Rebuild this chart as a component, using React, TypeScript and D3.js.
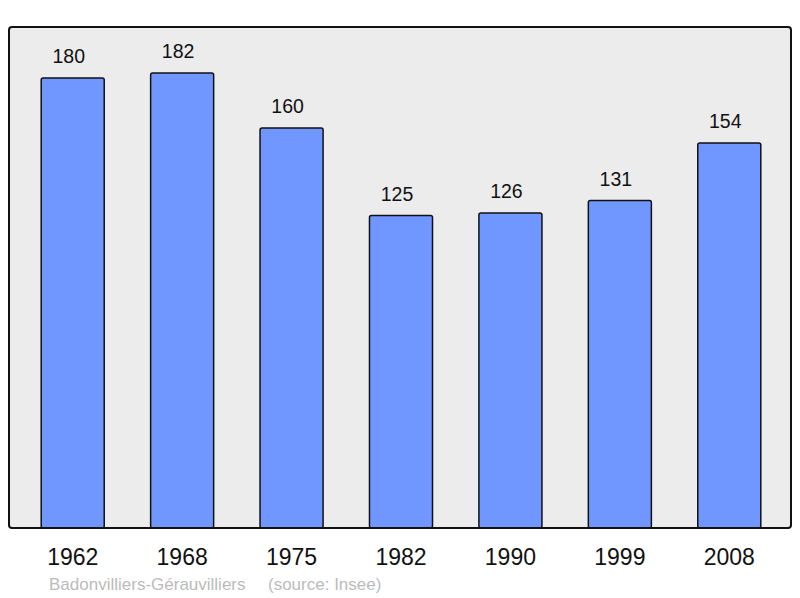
import React, { useEffect, useRef } from "react";
import * as d3 from "d3";

// population per census year
const years = ["1962", "1968", "1975", "1982", "1990", "1999", "2008"];
const population = [180, 182, 160, 125, 126, 131, 154];
const yDomainMax = 200;
const footerLabels = ["Badonvilliers-Gérauvilliers", "(source: Insee)"];

const FONT = "'Liberation Sans', Arial, sans-serif";

const App = () => {
  const svgRef = useRef<SVGSVGElement>(null);

  useEffect(() => {
    const svg = d3.select(svgRef.current);
    svg.selectAll("*").remove();

    const frame = { left: 9, top: 27, right: 791, bottom: 528 };

    const x = d3
      .scaleBand()
      .domain(years)
      .range([18, 784])
      .paddingInner(0.424)
      .paddingOuter(0.212);
    const y = d3.scaleLinear().domain([0, yDomainMax]).range([528, 28]);

    // background panel
    svg
      .append("rect")
      .attr("x", frame.left)
      .attr("y", frame.top)
      .attr("width", frame.right - frame.left)
      .attr("height", frame.bottom - frame.top)
      .attr("rx", 3)
      .attr("fill", "#ececec");

    const data = years.map((year, i) => ({ year, value: population[i] }));

    // bars
    svg
      .selectAll(".bar")
      .data(data)
      .enter()
      .append("rect")
      .attr("class", "bar")
      .attr("x", (d) => x(d.year)!)
      .attr("y", (d) => y(d.value))
      .attr("width", x.bandwidth())
      .attr("height", (d) => y(0) - y(d.value))
      .attr("rx", 2)
      .attr("fill", "#7096ff")
      .attr("stroke", "#111")
      .attr("stroke-width", 1.5);

    // value labels
    svg
      .selectAll(".val")
      .data(data)
      .enter()
      .append("text")
      .attr("x", (d) => x(d.year)! + x.bandwidth() / 2 - 4)
      .attr("y", (d) => y(d.value) - 15)
      .attr("text-anchor", "middle")
      .style("font-family", FONT)
      .style("font-size", "19.5px")
      .attr("fill", "#111")
      .text((d) => d.value);

    // frame outline drawn on top
    svg
      .append("rect")
      .attr("x", frame.left)
      .attr("y", frame.top)
      .attr("width", frame.right - frame.left)
      .attr("height", frame.bottom - frame.top)
      .attr("rx", 3)
      .attr("fill", "none")
      .attr("stroke", "#111")
      .attr("stroke-width", 2);

    // year labels
    svg
      .selectAll(".yr")
      .data(years)
      .enter()
      .append("text")
      .attr("x", (d) => x(d)! + x.bandwidth() / 2)
      .attr("y", 565)
      .attr("text-anchor", "middle")
      .style("font-family", FONT)
      .style("font-size", "23px")
      .attr("fill", "#111")
      .text((d) => d);

    // footer
    svg
      .append("text")
      .attr("x", 49)
      .attr("y", 590)
      .style("font-family", FONT)
      .style("font-size", "17px")
      .attr("fill", "#bbbbbb")
      .text(footerLabels[0]);
    svg
      .append("text")
      .attr("x", 268)
      .attr("y", 590)
      .style("font-family", FONT)
      .style("font-size", "17px")
      .attr("fill", "#bbbbbb")
      .text(footerLabels[1]);
  }, []);

  return (
    <svg
      ref={svgRef}
      width={800}
      height={598}
      style={{ position: "absolute", left: 0, top: 0, background: "#fff" }}
    />
  );
};

export default App;
